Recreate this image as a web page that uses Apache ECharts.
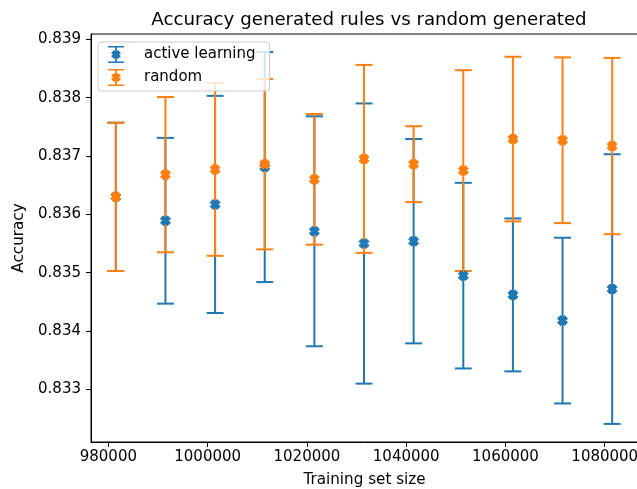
<!DOCTYPE html>
<html>
<head>
<meta charset="utf-8">
<script src="https://cdn.jsdelivr.net/npm/echarts@6/dist/echarts.min.js"></script>
<style>
  html, body { margin: 0; padding: 0; background: #fff; }
  #chart { width: 637px; height: 489px; }
</style>
</head>
<body>
<div id="chart"></div>
<script>
// training set sizes
const trainSizes = [981500, 991500, 1001500, 1011500, 1021500, 1031500, 1041500, 1051500, 1061500, 1071500, 1081500];

// active learning: mean accuracy and error (half bar)
const activeMean = [0.83630, 0.83589, 0.83617, 0.83681, 0.83571, 0.83550, 0.83554, 0.83495, 0.83462, 0.83418, 0.83472];
const activeErr = [0.00127, 0.00142, 0.00186, 0.00197, 0.00197, 0.00240, 0.00175, 0.00159, 0.00131, 0.00142, 0.00231];

// random: mean accuracy and error
const randomMean = [0.83630, 0.83668, 0.83677, 0.83686, 0.83660, 0.83695, 0.83686, 0.83675, 0.83729, 0.83727, 0.83717];
const randomErr = [0.00127, 0.00133, 0.00148, 0.00146, 0.00112, 0.00161, 0.00065, 0.00172, 0.00141, 0.00142, 0.00151];

const xTicks = [980000, 1000000, 1020000, 1040000, 1060000, 1080000];
const yTicks = [0.833, 0.834, 0.835, 0.836, 0.837, 0.838, 0.839];

const BLUE = "#1f77b4";
const ORANGE = "#ff7f0e";
const FONT = "DejaVu Sans";

const xMarker = "path://M0,3 L3,0 L5,2 L7,0 L10,3 L8,5 L10,7 L7,10 L5,8 L3,10 L0,7 L2,5 Z";
// errorbar glyph for legend: caps, bar and X marker
const legendIcon = "path://M2,0 H18 V1.6 H2 Z M2,15.4 H18 V17 H2 Z M9.1,0 H10.9 V17 H9.1 Z " +
  "M5,7 L8,4 L10,6 L12,4 L15,7 L13,8.5 L15,10 L12,13 L10,11 L8,13 L5,10 L7,8.5 Z";

function barData(means, errs) {
  return trainSizes.map((x, i) => [x, means[i] - errs[i], means[i] + errs[i]]);
}
function pointData(means) {
  return trainSizes.map((x, i) => [x, means[i]]);
}

function errorBarSeries(name, means, errs, color, z) {
  return {
    name: name,
    type: "custom",
    z: z,
    silent: true,
    data: barData(means, errs),
    encode: { x: 0, y: [1, 2] },
    renderItem: (params, api) => {
      const lo = api.coord([api.value(0), api.value(1)]);
      const hi = api.coord([api.value(0), api.value(2)]);
      const cap = 8.5;
      const style = { stroke: color, lineWidth: 2 };
      return {
        type: "group",
        children: [
          { type: "line", shape: { x1: lo[0], y1: lo[1], x2: hi[0], y2: hi[1] }, style: style },
          { type: "line", shape: { x1: lo[0] - cap, y1: lo[1], x2: lo[0] + cap, y2: lo[1] }, style: style },
          { type: "line", shape: { x1: hi[0] - cap, y1: hi[1], x2: hi[0] + cap, y2: hi[1] }, style: style },
        ],
      };
    },
  };
}

function pointSeries(name, means, color, z) {
  return {
    name: name,
    type: "scatter",
    z: z,
    symbol: xMarker,
    symbolSize: 10,
    itemStyle: { color: color, opacity: 1, borderColor: color, borderWidth: 1 },
    data: pointData(means),
  };
}

const option = {
  animation: false,
  backgroundColor: "#fff",
  textStyle: { fontFamily: FONT },
  title: {
    text: "Accuracy generated rules vs random generated",
    left: 364,
    textAlign: "center",
    top: 6,
    textStyle: { fontFamily: FONT, fontSize: 18.2, fontWeight: "normal", color: "#000" },
  },
  legend: {
    left: 98,
    top: 42,
    orient: "vertical",
    padding: [4, 14, 5, 10],
    itemWidth: 20,
    itemHeight: 17,
    itemGap: 6,
    backgroundColor: "rgba(255,255,255,0.8)",
    borderColor: "#cccccc",
    borderWidth: 1,
    borderRadius: 3,
    textStyle: { fontFamily: FONT, fontSize: 15, color: "#000", padding: [0, 0, 0, 13] },
    data: [
      { name: "active learning", icon: legendIcon, itemStyle: { color: BLUE } },
      { name: "random", icon: legendIcon, itemStyle: { color: ORANGE } },
    ],
  },
  grid: {
    left: 91,
    top: 34,
    width: 547,
    height: 408,
    outerBoundsMode: "none",
    containLabel: false,
    show: true,
    borderColor: "#000",
    borderWidth: 1,
    backgroundColor: "#fff",
  },
  xAxis: {
    type: "value",
    min: 976500,
    max: 1086700,
    name: "Training set size",
    nameLocation: "middle",
    nameGap: 31,
    nameTextStyle: { fontFamily: FONT, fontSize: 15.2, color: "#000" },
    splitLine: { show: false },
    axisLine: { onZero: false, lineStyle: { color: "#000", width: 1 } },
    axisTick: { show: true, inside: false, length: 5, lineStyle: { color: "#000" }, customValues: xTicks },
    axisLabel: {
      fontFamily: FONT, fontSize: 15, color: "#000", margin: 8,
      customValues: xTicks,
      formatter: (v) => String(Math.round(v)),
    },
  },
  yAxis: {
    type: "value",
    min: 0.8321,
    max: 0.83909,
    name: "Accuracy",
    nameLocation: "middle",
    nameGap: 64,
    nameTextStyle: { fontFamily: FONT, fontSize: 15.2, color: "#000" },
    splitLine: { show: false },
    axisLine: { show: true, onZero: false, lineStyle: { color: "#000", width: 1 } },
    axisTick: { show: true, inside: false, length: 5, lineStyle: { color: "#000" }, customValues: yTicks },
    axisLabel: {
      fontFamily: FONT, fontSize: 15, color: "#000", margin: 10,
      customValues: yTicks,
      formatter: (v) => v.toFixed(3),
    },
  },
  series: [
    errorBarSeries("active learning", activeMean, activeErr, BLUE, 1),
    errorBarSeries("random", randomMean, randomErr, ORANGE, 2),
    pointSeries("active learning", activeMean, BLUE, 3),
    pointSeries("random", randomMean, ORANGE, 4),
  ],
};

const chart = echarts.init(document.getElementById("chart"));
chart.setOption(option);
</script>
</body>
</html>
